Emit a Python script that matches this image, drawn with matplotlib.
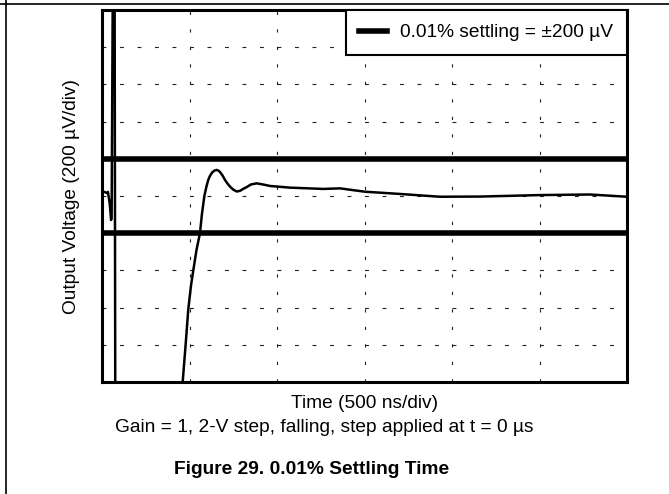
import matplotlib
matplotlib.use("Agg")
import matplotlib.pyplot as plt
from matplotlib.lines import Line2D

plt.rcParams['font.family'] = ['Liberation Sans', 'DejaVu Sans']
plt.rcParams['lines.scale_dashes'] = False

# ---- data (time in ns, voltage in uV) ----
trace_t = [0, 14, 27, 34, 44, 52, 55, 62, 72, 76, 446, 461, 477, 493, 509, 522, 540,
           560, 571, 585, 596, 607, 617, 629, 643, 655, 666, 674, 689, 703, 717, 731,
           749, 770, 789, 806, 827, 851, 884, 920, 960, 1074, 1263, 1360, 1503, 1703,
           1931, 2160, 2503, 2789, 3000]
trace_v = [23, 22, 16, 22, -40, -129, -110, 1200, 1200, -1200, -1200, -1000, -810,
           -610, -478, -398, -290, -199, -97, 0, 48, 86, 108, 126, 137, 140, 136, 129,
           110, 86, 67, 51, 35, 24, 28, 38, 48, 62, 68, 62, 54, 45, 38, 41, 23, 11,
           -4, -3, 5, 8, -4]
settle_band = [200, -200]
x_ticks = [0, 500, 1000, 1500, 2000, 2500, 3000]
y_ticks = [-1000, -800, -600, -400, -200, 0, 200, 400, 600, 800, 1000]
legend_label = "0.01% settling = \u00b1200 \u00b5V"

fig = plt.figure(figsize=(6.69, 4.94), dpi=100)
ax = fig.add_axes([102 / 669, 1 - 382 / 494, 525 / 669, 372 / 494])
ax.set_xlim(x_ticks[0], x_ticks[-1])
ax.set_ylim(y_ticks[0], y_ticks[-1])
ax.set_xticks(x_ticks)
ax.set_yticks(y_ticks)
ax.tick_params(length=0, labelbottom=False, labelleft=False)
for s in ax.spines.values():
    s.set_linewidth(2.2)

for xv in x_ticks[1:-1]:
    ax.axvline(xv, color='#222222', lw=0.8, ls=(0, (2.3, 10.3)), zorder=1)
for yv in y_ticks[1:-1]:
    if yv in settle_band:
        continue
    ax.axhline(yv, color='#222222', lw=0.8, ls=(0, (2.8, 9.8)), zorder=1)

for i, yv in enumerate(settle_band):
    ax.axhline(yv, color='black', lw=4.0, zorder=3,
               label=legend_label if i == 0 else None)

ax.plot(trace_t, trace_v, color='black', lw=1.8, zorder=4)

leg = ax.legend(loc='upper right', borderaxespad=0, fancybox=False,
                edgecolor='black', framealpha=1, fontsize=13.8,
                handlelength=1.45, handletextpad=0.68, borderpad=0.72)
leg.get_frame().set_linewidth(1.5)

ax.set_xlabel("Time (500 ns/div)", fontsize=13.8, labelpad=9)
ax.set_ylabel("Output Voltage (200 \u00b5V/div)", fontsize=13.8, labelpad=16)

fig.text(0.5 * (110 + 538) / 669, 1 - 428 / 494,
         "Gain = 1, 2-V step, falling, step applied at t = 0 \u00b5s",
         fontsize=13.8, ha='center', va='center')
fig.text(312 / 669, 1 - 469 / 494, "Figure 29. 0.01% Settling Time",
         fontsize=13.8, fontweight='bold', ha='center', va='center')

fig.add_artist(Line2D([0, 1], [1 - 4 / 494, 1 - 4 / 494], transform=fig.transFigure,
                      color='black', lw=1.2))
fig.add_artist(Line2D([6 / 669, 6 / 669], [0, 1], transform=fig.transFigure,
                      color='black', lw=1.2))

fig.savefig("out.png", dpi=100)
